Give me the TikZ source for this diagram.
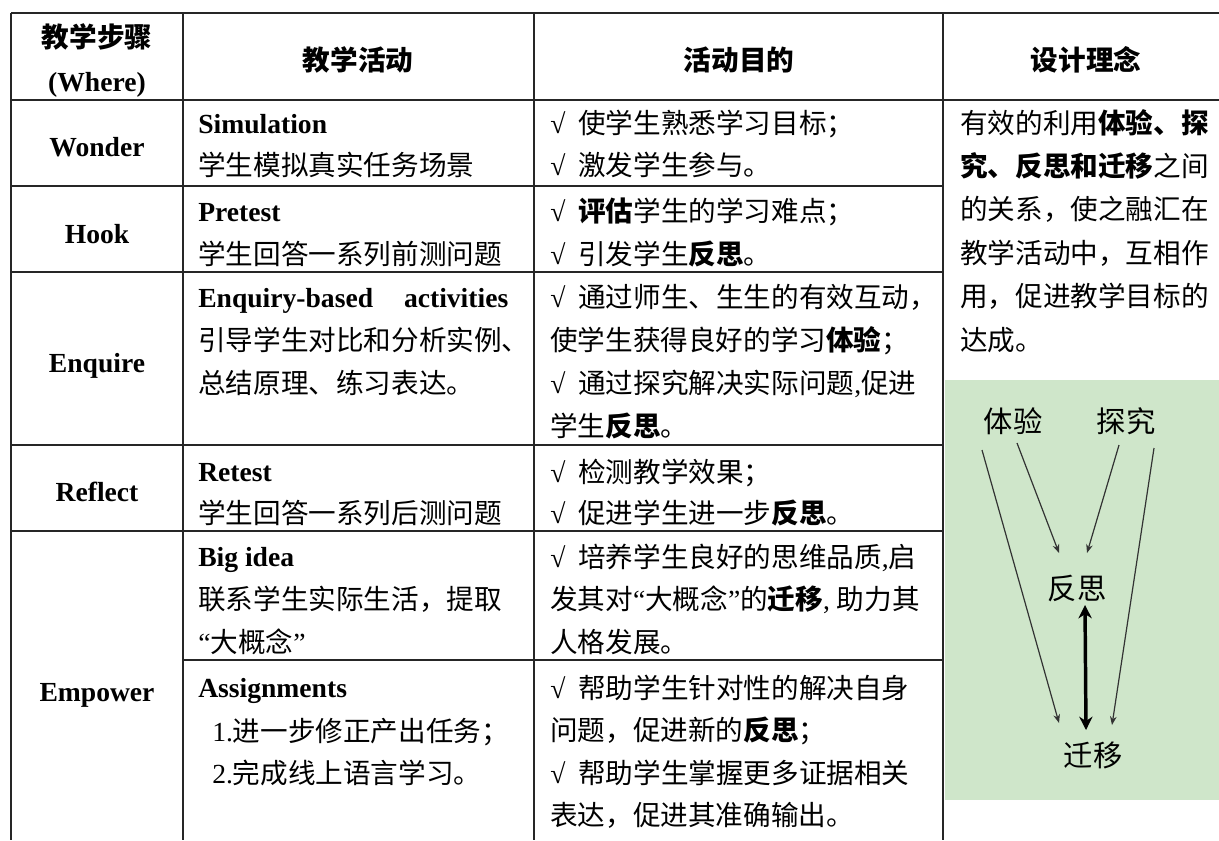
\documentclass[tikz,border=0pt]{standalone}
\usepackage{fontspec}
\setmainfont{Liberation Serif}
\newfontfamily\cjk{Noto Sans CJK SC}
\usetikzlibrary{arrows.meta}
\newcommand\zh[1]{{\cjk #1}}
\newcommand\zb[1]{{\cjk\bfseries #1}}
\newcommand\ck{\makebox[21pt][l]{√}}
\definecolor{diagreen}{RGB}{207,230,202}
\begin{document}
\begin{tikzpicture}[x=0.75pt,y=-0.75pt,
  txt/.style={inner sep=0pt,anchor=base west,font=\fontsize{20.7pt}{24pt}\selectfont},
  lbl/.style={inner sep=0pt,anchor=base,font=\fontsize{20.7pt}{24pt}\selectfont\bfseries},
  gridline/.style={line width=1.1pt,black!85},
  thinarrow/.style={line width=0.9pt,black!80,-{Stealth[length=6.5pt,width=5pt]}},
  dblarrow/.style={line width=2.6pt,black,{Stealth[length=10pt,width=10pt]}-{Stealth[length=10pt,width=10pt]}},
  dlabel/.style={inner sep=0pt,font=\fontsize{22pt}{24pt}\selectfont\cjk}]
\useasboundingbox (0,0) rectangle (1219,840);
% green picture
\fill[diagreen] (945,380) rectangle (1219,800);
% grid
\draw[gridline] (11,13) -- (1219,13);
\draw[gridline] (11,100) -- (1219,100);
\foreach \yy in {186,272,445,531} \draw[gridline] (11,\yy) -- (943,\yy);
\draw[gridline] (183,660) -- (943,660);
\foreach \xx in {11,183,534,943} \draw[gridline] (\xx,13) -- (\xx,840);
% header
\node[lbl] (hA) at (97,47) {\zb{教学步骤}};
\node[lbl] (hB) at (97,91) {(Where)};
\node[lbl] (hC) at (358,70) {\zb{教学活动}};
\node[lbl] (hD) at (739,70) {\zb{活动目的}};
\node[lbl] (hE) at (1086,70) {\zb{设计理念}};
% step labels
\node[lbl] (s1) at (97,156) {Wonder};
\node[lbl] (s2) at (97,243) {Hook};
\node[lbl] (s3) at (97,372) {Enquire};
\node[lbl] (s4) at (97,501) {Reflect};
\node[lbl] (s5) at (97,701) {Empower};
% column 2
\node[txt] (b1) at (198,133) {\bfseries Simulation};
\node[txt] (b2) at (198,175.5) {\zh{学生模拟真实任务场景}};
\node[txt] (b3) at (198,221) {\bfseries Pretest};
\node[txt] (b4) at (198,264) {\zh{学生回答一系列前测问题}};
\node[txt] (b5) at (198,307) {\makebox[232.5pt][s]{\bfseries Enquiry-based activities}};
\node[txt] (b6) at (198,350) {\zh{引导学生对比和分析实例、}};
\node[txt] (b7) at (198,393) {\zh{总结原理、练习表达。}};
\node[txt] (b8) at (198,481) {\bfseries Retest};
\node[txt] (b9) at (198,523) {\zh{学生回答一系列后测问题}};
\node[txt] (b10) at (198,566) {\bfseries Big idea};
\node[txt] (b11) at (198,609) {\zh{联系学生实际生活，提取}};
\node[txt] (b12) at (198,652) {“\zh{大概念}”};
\node[txt] (b13) at (198,697) {\bfseries Assignments};
\node[txt] (b14) at (212,741) {1.\zh{进一步修正产出任务；}};
\node[txt] (b15) at (212,783) {2.\zh{完成线上语言学习。}};
% column 3
\node[txt] (c1) at (550,133) {\ck\zh{使学生熟悉学习目标；}};
\node[txt] (c2) at (550,175.5) {\ck\zh{激发学生参与。}};
\node[txt] (c3) at (550,221) {\ck\zb{评估}\zh{学生的学习难点；}};
\node[txt] (c4) at (550,264) {\ck\zh{引发学生}\zb{反思}\zh{。}};
\node[txt] (c5) at (550,307) {\ck\zh{通过师生、生生的有效互动，}};
\node[txt] (c6) at (550,350) {\zh{使学生获得良好的学习}\zb{体验}\zh{；}};
\node[txt] (c7) at (550,393) {\ck\zh{通过探究解决实际问题},\zh{促进}};
\node[txt] (c8) at (550,436) {\zh{学生}\zb{反思}\zh{。}};
\node[txt] (c9) at (550,482) {\ck\zh{检测教学效果；}};
\node[txt] (c10) at (550,523) {\ck\zh{促进学生进一步}\zb{反思}\zh{。}};
\node[txt] (c11) at (550,567) {\ck\zh{培养学生良好的思维品质},\zh{启}};
\node[txt] (c12) at (550,609) {\zh{发其对}“\zh{大概念}”\zh{的}\zb{迁移}, \zh{助力其}};
\node[txt] (c13) at (550,652) {\zh{人格发展。}};
\node[txt] (c14) at (550,698) {\ck\zh{帮助学生针对性的解决自身}};
\node[txt] (c15) at (550,740) {\zh{问题，促进新的}\zb{反思}\zh{；}};
\node[txt] (c16) at (550,783) {\ck\zh{帮助学生掌握更多证据相关}};
\node[txt] (c17) at (550,825) {\zh{表达，促进其准确输出。}};
% column 4
\node[txt] (d1) at (960,133) {\zh{有效的利用}\zb{体验、探}};
\node[txt] (d2) at (960,176.4) {\zb{究、反思和迁移}\zh{之间}};
\node[txt] (d3) at (960,219.8) {\zh{的关系，使之融汇在}};
\node[txt] (d4) at (960,263.2) {\zh{教学活动中，互相作}};
\node[txt] (d5) at (960,306.6) {\zh{用，促进教学目标的}};
\node[txt] (d6) at (960,350) {\zh{达成。}};
% diagram
\node[dlabel] (tiyan) at (1013,421) {体验};
\node[dlabel] (tanjiu) at (1126,421) {探究};
\node[dlabel] (fansi) at (1077,589) {反思};
\node[dlabel] (qianyi) at (1093,755) {迁移};
\coordinate (a1s) at (982,450);  \coordinate (a1e) at (1059,723);
\coordinate (a2s) at (1017,443); \coordinate (a2e) at (1059,553);
\coordinate (a3s) at (1119,445); \coordinate (a3e) at (1087,553);
\coordinate (a4s) at (1154,448); \coordinate (a4e) at (1112,725);
\coordinate (fs) at (1085,605);  \coordinate (qy) at (1086,730);
\draw[thinarrow] (a1s) -- (a1e);
\draw[thinarrow] (a2s) -- (a2e);
\draw[thinarrow] (a3s) -- (a3e);
\draw[thinarrow] (a4s) -- (a4e);
\draw[dblarrow] (fs) -- (qy);
\end{tikzpicture}
\end{document}
